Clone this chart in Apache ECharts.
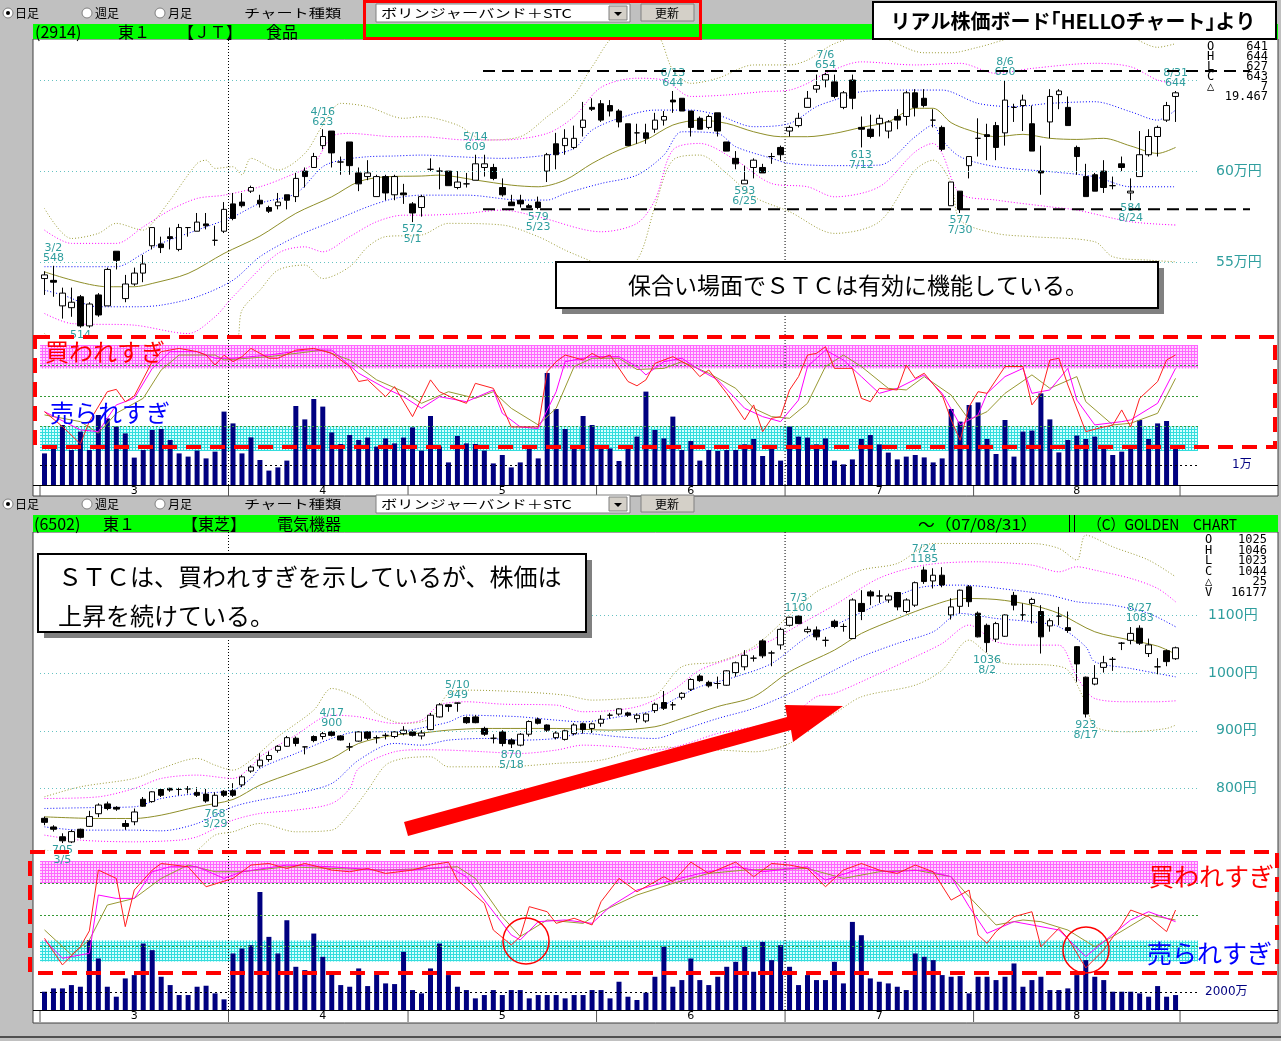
<!DOCTYPE html>
<html lang="ja">
<head>
<meta charset="utf-8">
<title>ボリンジャーバンド＋STC</title>
<script src="https://cdn.jsdelivr.net/npm/echarts@6/dist/echarts.min.js"></script>
<style>
  html, body { margin: 0; padding: 0; background: #c0c0c0; }
  #chart { width: 1281px; height: 1041px; }
</style>
</head>
<body>
<div id="chart"></div>
<script>
const FONT = '"Noto Sans CJK JP", "DejaVu Sans", sans-serif'
const NUM_FONT = '"DejaVu Sans", "Noto Sans CJK JP", sans-serif'
const TEAL = '#2f9e9e'
const OLIVE = '#999933'

// 営業日 2007/3〜8
const marDays = [1, 2, 5, 6, 7, 8, 9, 12, 13, 14, 15, 16, 19, 20, 22, 23, 26, 27, 28, 29, 30]
const aprDays = [2, 3, 4, 5, 6, 9, 10, 11, 12, 13, 16, 17, 18, 19, 20, 23, 24, 25, 26, 27]
const mayDays = [1, 2, 7, 8, 9, 10, 11, 14, 15, 16, 17, 18, 21, 22, 23, 24, 25, 28, 29, 30, 31]
const junDays = [1, 4, 5, 6, 7, 8, 11, 12, 13, 14, 15, 18, 19, 20, 21, 22, 25, 26, 27, 28, 29]
const julDays = [2, 3, 4, 5, 6, 9, 10, 11, 12, 13, 17, 18, 19, 20, 23, 24, 25, 26, 27, 30, 31]
const augDays = [1, 2, 3, 6, 7, 8, 9, 10, 13, 14, 15, 16, 17, 20, 21, 22, 23, 24, 27, 28, 29, 30, 31]
const monthLabels = ['3', '4', '5', '6', '7', '8']

// ---- JT (2914)  [始値, 終値, 安値, 高値] 千円
const jtCandles = [
  [541,543,532,545],[540,539,531,548],[526,533,519,536],[525,528,520,536],[531,515,514,532],
  [515,527,514,528],[532,521,520,533],[526,546,526,547],[556,551,546,556],[530,538,528,543],
  [538,544,537,547],[544,549,539,554],[559,569,557,569],[560,558,555,564],[564,563,557,569],
  [557,569,556,571],[569,569,564,569],[567,572,567,577],[571,570,568,577],[562,562,559,570],
  [567,579,566,583],[582,574,573,588],[583,581,580,588],[589,591,588,592],[584,582,580,587],
  [580,578,577,581],[581,583,579,588],[587,584,579,587],[586,596,583,599],[600,597,591,602],
  [602,608,602,610],[614,619,612,623],[622,610,602,622],[605,605,598,608],[616,603,598,616],
  [599,593,589,602],[597,599,595,606],[586,597,586,598],[597,588,584,598],[587,597,584,598],
  [588,587,582,593],[582,577,572,583],[580,586,575,587],[601,601,600,607],[600,600,590,602],
  [600,592,592,600],[591,594,590,600],[593,593,591,599],[595,604,595,609],[602,604,597,609],
  [602,596,595,604],[591,587,586,596],[583,581,581,587],[584,582,580,587],[581,580,580,582],
  [583,580,579,586],[600,609,594,610],[615,609,601,621],[614,618,609,623],[613,618,612,625],
  [624,628,619,638],[635,634,633,640],[637,628,627,639],[636,633,630,639],[633,627,624,634],
  [626,614,614,626],[621,621,615,626],[621,618,615,626],[623,628,621,632],[628,630,625,633],
  [639,638,632,644],[640,633,633,640],[633,624,619,633],[629,623,623,630],[624,630,623,631],
  [632,622,619,632],[616,611,611,616],[607,604,601,611],[593,595,593,603],[602,606,596,607],
  [602,599,599,604],[608,608,604,610],[613,609,606,614],[622,624,619,625],[625,629,624,632],
  [635,640,635,644],[645,647,643,653],[650,653,646,654],[649,641,640,653],[635,643,634,644],
  [650,640,634,653],[624,623,613,630],[623,619,618,631],[626,629,619,631],[622,627,618,628],
  [630,628,623,634],[630,643,625,644],[643,635,630,645],[640,636,635,645],[628,628,624,634],
  [624,612,611,625],[581,594,581,594],[589,579,577,589],[603,608,596,608],[618,618,608,629],
  [620,619,606,626],[625,613,606,627],[621,639,614,650],[635,635,627,637],[636,639,622,642],
  [626,611,611,636],[600,599,587,614],[627,641,618,645],[642,644,634,645],[635,625,625,641],
  [613,608,598,614],[597,586,586,604],[598,589,589,599],[600,591,588,606],[592,592,590,597],
  [604,602,600,608],[588,589,584,596],[597,609,597,622],[609,619,608,623],[619,624,608,625],
  [628,636,627,638],[641,643,627,644]
]
// 出来高 千株
const jtVolume = [
  15.8,18.3,30,17.5,26.7,17.5,35,33.3,29.2,25.8,13.7,17.5,27.5,28,22.5,15.8,14.2,17.2,13.3,16.7,
  36.7,30.8,15.8,23.8,12.5,7.2,8.8,12.2,39.5,32.8,43,39.2,26.3,20.5,25,22.5,23.7,19.2,23.3,20.8,
  23.7,28.8,17.2,34.5,19.2,11.3,24.5,20.8,20.5,17.2,10.8,15,8.8,11.3,18,13.3,56,38,28,18,
  34.5,30,18,18.3,12,18,24.2,46.7,27.5,23.3,34.2,17.5,22,12.2,17.5,17,17.5,17.5,20.3,23,
  14.5,20,12.2,29.2,24.2,23.7,20.3,23.3,12.2,10.3,12.8,23,25,20.3,16.2,12.8,14.2,15,13.8,11.3,
  13.3,38,31.7,40,41.3,23,15.5,32.5,14.2,26.7,27.2,45.8,32.8,16.3,22.5,24.7,23,24.2,20,15,
  16.7,20,32.5,23,30.8,32,19.5
]
// ボリンジャーバンド [index, 値]
const jtMid = [[0,544.7],[7,536.5],[10,536.5],[12,538.3],[16,543.8],[20,554.8],[24,564.3],[28,576.8],[32,585.9],[35,594.2],[38,596.9],[42,597.3],[44,597.8],[48,595.1],[52,592.3],[55,591.4],[58,595.1],[61,604.2],[64,611.6],[67,617.1],[70,625.3],[73,628],[76,626.2],[79,621.6],[82,618.9],[85,618.9],[88,620.7],[91,624],[94,627.1],[97,634.5],[99,634.5],[101,626.6],[103,622.5],[106,618.9],[109,620.2],[112,618],[115,617.4],[118,618],[121,613.8],[124,609.7],[126,613]]
const jtUp1 = [[0,547.5],[8,547.5],[11,554.8],[13,560.3],[17,567.6],[21,574.9],[24,582.3],[28,587.7],[31,602.4],[33,606],[36,607.9],[39,608.3],[42,608.8],[46,607.9],[51,607],[56,608.8],[59,612.5],[61,622.5],[64,629],[68,633.5],[72,633.5],[75,630.8],[79,624.4],[83,626.2],[86,635.4],[88,639],[91,643.6],[97,644.5],[100,644.5],[104,637.2],[108,635.4],[112,637.2],[117,638.1],[121,632.6],[124,628],[126,633.5]]
const jtLo1 = [[0,534.6],[2,532],[6,525.5],[10,525.5],[13,526.4],[17,531],[21,540.1],[24,553],[28,564],[32,572.2],[36,580.4],[39,585],[42,586.8],[47,586.8],[53,584.1],[56,584.1],[58,587.7],[62,593.2],[66,597.8],[69,608.8],[71,621.6],[75,620.7],[77,613.4],[81,607],[83,604.2],[88,603],[93,603.3],[97,618.9],[99,625.3],[100,617.1],[102,607.9],[106,602.4],[112,599.7],[117,596.9],[121,591.4],[126,591.4]]
const jtUp2 = [[0,567.6],[3,560.3],[8,560.3],[11,569.4],[14,578.6],[17,585],[20,586.8],[24,591.4],[27,596.9],[30,604.2],[32,618.9],[34,620.7],[39,618.9],[42,618.9],[47,617.1],[51,617.1],[56,620.7],[59,629.9],[62,646],[66,651],[69,650],[72,641],[76,641.8],[80,643.6],[83,644.5],[85,648.2],[87,653.7],[91,660],[97,658.3],[102,659.2],[106,653.7],[110,656.4],[117,659.2],[121,657.3],[124,650],[126,648.2]]
const jtLo2 = [[0,521.8],[3,516.3],[10,515.4],[16,510.8],[19,520],[21,531],[26,554.8],[29,558.4],[31,555.7],[34,564],[37,572.2],[40,575.8],[42,575.8],[47,576.8],[51,578.6],[55,574.9],[62,566.7],[66,571.3],[68,584.1],[70,611.6],[73,615.2],[77,606],[81,593.2],[85,591.4],[88,585.9],[93,591.4],[97,610.6],[99,615.2],[100,609.7],[102,587.7],[106,584.1],[112,580.4],[115,578.6],[121,572.2],[126,570.4]]
const jtUp3 = [[0,579.5],[3,563],[6,565.8],[8,571.3],[11,567.6],[12,571.3],[14,584.1],[17,604.2],[18,606],[19,601.5],[21,602.4],[22,598],[23,607],[26,600.6],[29,609.7],[31,625.3],[33,637.2],[36,635.4],[40,629],[42,629.9],[46,625.3],[49,617.1],[53,618.9],[56,629.9],[59,641.8],[61,657.3],[64,675],[68,675],[70,655.5],[72,648.2],[75,651],[79,658.3],[83,658.3],[85,661],[88,670],[92,675],[98,665],[101,665],[104,668],[110,675],[120,675],[124,668],[126,670]]
const jtLo3 = [[0,510.8],[2,505],[21,505],[22,523.6],[24,534.6],[26,545.6],[29,548.4],[31,541],[34,547.5],[36,558.4],[38,564],[42,564.9],[45,571.3],[51,570.4],[55,564],[58,556.6],[61,550.2],[63,545],[66,551.1],[68,580.4],[70,606],[73,608.8],[76,598.7],[79,585.9],[83,577.7],[88,565.8],[93,572.2],[97,600.6],[99,606],[101,593.2],[102,573.1],[106,565.8],[110,564],[117,561.2],[119,553],[123,551.1],[126,550.2]]
// STC %
const jtK = [[0,34.6],[2,20],[4,3],[5,25],[7,54.2],[8,56.5],[9,44.3],[10,50],[12,83.7],[13,93.5],[15,96.7],[17,93.5],[18,90.2],[19,80.4],[20,90],[21,83.7],[22,88.6],[23,96.7],[25,87],[26,87],[28,95],[30,96.7],[32,91.8],[34,78.9],[35,64.2],[36,65.8],[38,49.3],[39,59.2],[41,29.7],[43,65.8],[44,54.2],[46,46],[47,42.8],[48,62.4],[50,57.5],[51,39.5],[52,19.6],[53,19.6],[55,19.6],[56,74],[57,83.7],[58,90.2],[60,85.3],[61,91.8],[62,87],[63,90.2],[65,64.2],[66,60],[67,65.8],[68,82],[70,88.6],[72,78.9],[73,69],[74,75.5],[76,52.6],[78,26.5],[79,41.2],[80,15],[81,28.1],[82,29.7],[83,55.9],[84,69],[85,90.2],[86,91.8],[87,98.4],[88,77.1],[90,77.1],[91,47.7],[92,44.4],[93,57.5],[95,55.9],[96,80.4],[97,67.3],[98,72.3],[100,50.9],[101,26.5],[102,6.5],[103,39.5],[104,54.2],[105,52.6],[107,78.9],[109,78.9],[110,41.2],[111,52.6],[112,85.3],[113,87],[114,60.8],[116,15],[118,19.6],[119,21.3],[120,36.3],[121,19.6],[122,47.7],[124,64.1],[125,85.3],[126,90.2]]
const jtD = [[0,34.6],[4,16.7],[6,15],[8,41.2],[10,47.7],[12,77],[14,93.5],[17,93.5],[19,87],[21,87],[25,90.2],[29,95],[32,95],[35,72.3],[38,57.5],[40,49.3],[42,37.9],[44,49.3],[47,44.4],[50,55.9],[51,33],[53,19.6],[55,18],[57,54.2],[58,83.7],[61,88.6],[64,88.6],[66,78.9],[67,70.7],[69,83.7],[71,87],[73,75.5],[75,65.8],[78,37.9],[80,29.7],[82,24.8],[84,46],[85,78.9],[87,95],[89,85.3],[91,69],[93,52.6],[95,57.5],[98,70.7],[100,52.6],[102,21.6],[104,31.4],[105,52.6],[107,69],[109,77.1],[110,52.6],[112,55.9],[114,77.1],[115,46],[117,21.6],[120,24.8],[121,26.5],[124,42.8],[126,77.1]]
const jtSD = [[0,31.4],[4,24.8],[6,13.4],[8,33],[11,47.7],[13,75.5],[15,90.2],[19,90.2],[20,85.3],[25,88.6],[31,95],[34,85.3],[37,65.8],[40,54.2],[42,42.8],[45,54.2],[48,47.7],[50,54.2],[52,37.9],[55,21.6],[57,37.9],[59,78.9],[61,87],[64,87],[66,76],[69,77.1],[71,83.7],[74,72.3],[77,57.5],[79,37.9],[81,29.7],[83,28.1],[85,42.8],[87,78.9],[89,90.2],[91,78.9],[94,57.5],[96,55.9],[98,69],[101,50.9],[103,26.5],[105,34.6],[107,52.6],[110,70.7],[112,57.5],[115,69],[116,44.4],[119,21.6],[121,23.2],[124,33],[126,67.3]]
const jtNotes = [[1,'3/2',548,'up'],[4,'',514,'down'],[31,'4/16',623,'up'],[41,'5/1',572,'down'],[48,'5/14',609,'up'],[55,'5/23',579,'down'],[70,'6/13',644,'up'],[78,'6/25',593,'down'],[87,'7/6',654,'up'],[91,'7/12',613,'down'],[102,'7/30',577,'down'],[107,'8/6',650,'up'],[121,'8/24',584,'down'],[126,'8/31',644,'up']]
const jtLevels = [[550,'55万円'],[600,'60万円'],[650,'']]
const jtBoxLevels = [655, 579]
const jtInfoKeys = ['O', 'H', 'L', 'C', '△', '']
const jtInfoVals = ['641', '644', '627', '643', '7', '19.467']

// ---- 東芝 (6502)  [始値, 終値, 安値, 高値] 円
const tsCandles = [
  [748,741,736,751],[733,729,725,736],[716,709,705,722],[707,725,705,728],[729,715,713,730],
  [734,751,733,761],[756,771,750,774],[773,765,762,777],[767,764,761,769],[739,734,728,745],
  [742,759,736,765],[781,769,768,785],[777,794,775,795],[798,788,785,800],[800,797,794,801],
  [798,798,788,801],[799,799,791,804],[793,788,785,802],[790,778,775,799],[769,788,768,793],
  [795,788,785,797],[796,788,785,809],[806,820,802,823],[830,837,827,840],[839,849,835,861],
  [850,857,846,864],[866,873,862,875],[873,888,872,891],[887,878,873,890],[872,872,859,872],
  [890,883,880,892],[890,895,885,898],[898,892,890,900],[891,884,883,892],[872,872,865,879],
  [882,898,881,899],[898,887,884,899],[888,888,878,892],[892,892,885,896],[890,898,887,899],
  [895,901,892,908],[898,892,890,901],[891,896,885,901],[902,927,901,931],[924,945,923,948],
  [945,942,933,946],[948,948,933,949],[923,914,912,925],[924,914,913,927],[904,894,891,907],
  [887,887,878,894],[898,878,873,901],[884,877,870,887],[875,894,873,896],[894,916,890,918],
  [920,913,911,923],[910,901,898,911],[888,896,885,899],[885,900,883,902],[895,910,892,913],
  [912,902,895,914],[904,912,896,914],[913,920,907,927],[927,927,921,931],[929,938,926,939],
  [931,927,924,933],[921,927,914,930],[917,929,914,930],[935,946,931,949],[949,939,936,969],
  [945,945,936,950],[958,965,954,967],[972,989,969,991],[995,987,985,998],[984,978,975,987],
  [982,982,973,994],[979,1004,978,1005],[1001,1018,994,1020],[1011,1031,1005,1040],[1026,1026,1020,1031],
  [1056,1030,1026,1059],[1035,1035,1012,1039],[1049,1076,1041,1079],[1083,1097,1081,1098],[1099,1086,1085,1100],
  [1072,1076,1069,1081],[1075,1063,1057,1081],[1057,1057,1046,1063],[1090,1081,1078,1093],[1081,1081,1072,1086],
  [1060,1127,1060,1130],[1121,1107,1092,1144],[1141,1134,1118,1144],[1134,1134,1122,1144],[1127,1134,1122,1138],
  [1140,1115,1109,1141],[1107,1127,1104,1130],[1118,1157,1115,1159],[1179,1159,1155,1185],[1160,1170,1147,1182],
  [1170,1153,1149,1184],[1101,1115,1093,1130],[1116,1144,1104,1145],[1150,1124,1115,1153],[1104,1063,1062,1107],
  [1083,1053,1036,1086],[1059,1086,1054,1089],[1064,1101,1063,1102],[1135,1118,1109,1141],[1101,1101,1092,1121],
  [1121,1128,1086,1131],[1107,1063,1034,1118],[1082,1091,1072,1095],[1099,1099,1083,1115],[1079,1074,1070,1107],
  [1046,1016,985,1047],[993,929,923,994],[981,991,979,1014],[1010,1018,1001,1030],[1024,1024,1004,1028],
  [1052,1052,1040,1054],[1057,1069,1050,1080],[1078,1052,1049,1083],[1034,1049,1028,1060],[1011,1011,998,1026],
  [1039,1020,1012,1041],[1025,1044,1023,1046]
]
// 出来高 万株
const tsVolume = [
  2004,2368,2368,2732,2550,7650,5647,2550,1457,3461,3826,7286,6557,3643,2732,1639,1639,2550,2660,1822,1166,
  6194,6741,7104,12934,8015,6194,9836,4736,4372,8379,5829,4190,2732,2550,4554,2623,4008,2915,2841,6376,
  2186,1822,4554,7286,3826,2550,2186,1275,1639,2186,1639,2186,2186,1275,1639,1639,1639,1275,1639,1639,2186,
  2186,1275,3097,1457,1093,1895,3643,6923,2550,3279,5647,3279,2732,3643,4736,5283,6923,4190,7468,5465,7104,
  4736,2732,3826,3279,3279,5283,2915,9654,8197,3461,3097,2915,2550,2186,6194,5829,5465,3826,3643,3716,1822,
  3643,3643,3279,3643,5101,2550,3279,3643,2186,2186,2368,3826,5465,3643,3279,2004,2004,2004,1822,1457,2623,1457,1639
]
const tsMid = [[0,750.6],[6,747.7],[10,747.7],[13,753.5],[17,768],[21,780.7],[24,805.6],[28,828.7],[32,851.9],[35,878],[39,892.4],[42,896],[45,901.1],[49,904],[57,904],[63,901.1],[68,906.9],[71,921.3],[75,942],[79,959],[83,1002.4],[88,1040],[91,1068.9],[95,1094.9],[99,1118],[102,1129.6],[106,1127.9],[110,1118],[113,1103.6],[117,1071.8],[121,1057.3],[124,1046.9],[126,1033]]
const tsUp1 = [[0,765.1],[6,766.8],[10,768],[13,782.4],[17,791.1],[21,796.9],[23,817.2],[24,834.5],[28,860.6],[32,886.6],[35,898.2],[39,898.2],[42,905],[45,915],[47,927.1],[50,926],[53,924.2],[57,918.4],[60,915.5],[64,924.2],[68,935.8],[70,953.2],[73,976.3],[77,993.7],[81,1016.8],[85,1063.1],[88,1083],[93,1120],[98,1150],[102,1152.8],[108,1144.1],[112,1135.4],[115,1123.9],[119,1118],[123,1103.6],[126,1080.5]]
const tsLo1 = [[0,733.2],[4,727.5],[10,727.5],[13,726.3],[17,739],[21,768],[24,779.6],[28,791.1],[32,808.5],[35,849],[39,878],[42,875],[45,883.7],[49,886.6],[53,883.7],[57,886.6],[60,895.3],[64,889.5],[68,886.6],[71,901.1],[75,921.3],[79,938.7],[83,964.7],[88,1005.2],[91,1028.4],[95,1051.5],[99,1071.8],[102,1103.6],[106,1094.9],[110,1089.2],[113,1080.5],[116,1045.7],[117,1019.7],[121,1008.1],[124,999.4],[126,993.6]]
const tsUp2 = [[0,782.4],[6,785.3],[10,799.8],[13,817.2],[17,823],[21,817.2],[23,837.4],[24,854.8],[28,892.4],[32,927.1],[35,924.2],[39,912.7],[42,918.4],[44,944.5],[47,950.3],[51,946.2],[57,944.5],[60,933],[66,941.6],[70,970.5],[73,1005.2],[77,1028.4],[81,1057.3],[85,1092],[88,1118],[93,1165],[98,1187.5],[104,1193.3],[110,1187.5],[113,1175.9],[115,1184.6],[117,1178.8],[121,1164.4],[124,1147],[126,1123.9]]
const tsLo2 = [[0,718.8],[4,710.1],[10,707.2],[15,710.1],[17,715.9],[19,730.4],[21,744.8],[24,756.4],[28,762.2],[32,773.8],[34,799.8],[35,834.5],[39,863.5],[42,867],[45,866.4],[49,863.5],[53,860.6],[57,866.4],[60,875],[64,872.1],[68,866.4],[71,875],[75,895.3],[79,906.9],[83,924.2],[86,959],[88,965],[93,999.4],[97,1028.4],[100,1051.5],[103,1083.4],[106,1054.4],[110,1048.6],[113,1048.6],[115,993.6],[117,956],[121,950.3],[124,950.3],[126,952]]
const tsUp3 = [[0,785.3],[4,802.7],[10,817.2],[13,834.5],[17,851.9],[19,840.3],[21,831.6],[23,849],[26,889.5],[30,935.8],[32,973.4],[35,956],[37,930],[40,912.7],[43,921.3],[45,964.7],[47,970.5],[53,967.6],[58,961.8],[61,953.2],[65,956.1],[68,961.8],[71,1011],[75,1019.7],[79,1045.8],[83,1100.7],[86,1141.2],[88,1155.7],[91,1178.8],[95,1190.4],[99,1225.1],[104,1225.1],[110,1225.1],[113,1216.5],[115,1196.2],[116,1239.6],[119,1219.3],[123,1196.2],[126,1167.3]]
const tsLo3 = [[0,692.7],[3,688],[16,688],[17,692.7],[19,718.8],[21,724.6],[24,739],[28,724.6],[32,727.5],[34,756.4],[36,796.9],[38,840.3],[40,851.9],[43,854.8],[45,837.4],[51,837.4],[57,843.2],[62,849],[66,866.4],[69,872.1],[72,866.4],[75,866.4],[79,863.5],[83,878],[86,915.5],[88,930],[91,958.9],[97,979.2],[100,1005.2],[103,1057.3],[105,1034.2],[107,1016.8],[112,1013.9],[114,1005.2],[116,947.4],[117,906.9],[121,898.2],[125,904],[126,909.8]]
const tsK = [[0,28],[2,2.8],[4,20],[5,35],[6,92.5],[8,84.6],[9,39],[10,73.6],[12,92.5],[13,98.7],[16,95.6],[18,76.7],[21,84.6],[23,97.2],[25,98.7],[27,94],[29,98.7],[32,92.5],[34,90.9],[36,94],[38,89.3],[41,92.5],[43,97.2],[45,100],[46,83],[49,61],[50,35.8],[52,21.7],[53,29.6],[54,57.9],[56,53.1],[57,42.1],[59,46.9],[61,40.6],[62,62.6],[64,84.6],[66,72],[69,86.2],[70,81.4],[72,100],[74,89.3],[77,100],[79,86.2],[81,98.7],[83,97.2],[85,94],[87,76.7],[89,92.5],[91,98.7],[93,92.5],[95,89.3],[97,97.2],[99,90.9],[101,64.1],[103,73.6],[104,31.1],[105,23.3],[106,34.3],[108,48.4],[110,53.1],[111,20],[113,37.4],[114,28],[116,0],[118,17.1],[120,40.6],[121,54.7],[123,48.4],[125,34.3],[126,54.7]]
const tsD = [[0,26.4],[2,9.1],[5,13.8],[6,68.9],[8,65.7],[10,65.7],[12,90.9],[14,95.6],[17,95.6],[20,84.6],[22,90.9],[27,97.2],[32,95.6],[37,92.5],[41,92.5],[45,95.6],[47,86.2],[49,64.1],[52,31.1],[53,26.4],[55,43.7],[58,45.3],[61,42.1],[63,57.9],[66,73.6],[70,83],[73,89.3],[77,95.6],[80,90.9],[85,95.6],[87,83],[91,94],[94,90.9],[98,92.5],[101,86.2],[103,57.9],[105,32.7],[108,43.7],[110,40.6],[113,35.8],[116,10.7],[118,24.8],[121,45.3],[123,53.1],[126,43.7]]
const tsSD = [[0,35.9],[3,12.3],[5,26.4],[7,59.4],[10,65.7],[13,84.6],[16,97.2],[19,90.9],[22,90.9],[27,95.6],[32,94],[38,92.5],[43,94],[46,95.6],[48,84.6],[51,48.4],[53,29.6],[56,45.3],[60,42.1],[62,53.1],[66,68.9],[70,79.9],[74,89.3],[78,92.5],[85,94],[89,84.6],[93,90.9],[97,92.5],[101,86.2],[103,67.3],[106,40.6],[109,45.3],[111,43.7],[114,35.8],[117,20],[119,29.6],[123,50],[126,45.3]]
const tsNotes = [[2,'3/5',705,'down'],[19,'3/29',768,'down'],[32,'4/17',900,'up'],[46,'5/10',949,'up'],[52,'5/18',870,'down'],[84,'7/3',1100,'up'],[98,'7/24',1185,'up'],[105,'8/2',1036,'down'],[116,'8/17',923,'down'],[122,'8/27',1083,'up']]
const tsLevels = [[800,'800円'],[900,'900円'],[1000,'1000円'],[1100,'1100円']]
const tsInfoKeys = ['O', 'H', 'L', 'C', '△', 'V']
const tsInfoVals = ['1025', '1046', '1023', '1044', '25', '16177']

// ---- axis helpers
const monthDays = [marDays, aprDays, mayDays, junDays, julDays, augDays]
const categories = monthDays.flatMap((days, m) => days.map(d => `${m + 3}/${d}`)).concat(['', ''])
const monthStarts = []
const monthMids = {}
let pos = 0
monthDays.forEach((days, m) => {
  monthStarts.push(pos)
  monthMids[pos + Math.floor(days.length / 2)] = monthLabels[m]
  pos += days.length
})
monthStarts.push(pos)
const quarterStarts = [monthStarts[1], monthStarts[4]]

const grids = [
  { left: 40, top: 40, width: 1158, height: 295 },
  { left: 40, top: 343, width: 1158, height: 109 },
  { left: 40, top: 345, width: 1158, height: 140 },
  { left: 40, top: 532, width: 1158, height: 318 },
  { left: 40, top: 860, width: 1158, height: 110 },
  { left: 40, top: 864, width: 1158, height: 146 }
]
const yRanges = [[510, 672], [-5, 102], [0, 70], [693, 1245], [-2, 102], [0, 16000]]

const xAxisFor = (gi) => {
  const labelled = gi === 2 || gi === 5
  return {
    type: 'category', gridIndex: gi, data: categories, boundaryGap: true,
    axisLine: { show: labelled, lineStyle: { color: '#000', width: 1 } },
    axisTick: { show: false },
    axisLabel: {
      show: labelled, interval: (i) => monthMids[i] !== undefined, formatter: (v, i) => monthMids[i] || '',
      fontSize: 11, margin: 1, color: '#000', fontFamily: NUM_FONT
    },
    splitLine: { show: false }
  }
}

const hatch = (base, line) => {
  const c = document.createElement('canvas')
  c.width = 3
  c.height = 3
  const g = c.getContext('2d')
  g.fillStyle = base
  g.fillRect(0, 0, 3, 3)
  g.fillStyle = line
  g.fillRect(0, 0, 3, 1)
  g.fillRect(0, 0, 1, 3)
  return { image: c, repeat: 'repeat' }
}

const panelSeries = (g, p) => [
  {
    type: 'line', xAxisIndex: g + 1, yAxisIndex: g + 1, data: [[0, 50]], symbol: 'none',
    lineStyle: { opacity: 0 }, z: 1, silent: true,
    markArea: {
      silent: true,
      data: [
        [{ yAxis: p.pink[0], itemStyle: { color: hatch('#ffd6ff', '#ff66ff') } }, { yAxis: p.pink[1] }],
        [{ yAxis: p.cyan[0], itemStyle: { color: hatch('#d6ffff', '#33dddd') } }, { yAxis: p.cyan[1] }]
      ]
    },
    markLine: {
      silent: true, symbol: 'none',
      lineStyle: { color: '#339933', type: [2, 2], width: 1 },
      label: { show: false },
      data: [
        { yAxis: 20 }, { yAxis: 50 }, { yAxis: 80 },
        { yAxis: 100, lineStyle: { opacity: 0 }, label: { show: true, position: 'end', formatter: '100%', distance: 17, color: OLIVE, fontSize: 12, fontFamily: NUM_FONT } },
        { yAxis: 0, lineStyle: { opacity: 0 }, label: { show: true, position: 'end', formatter: '0 %', distance: 29, color: OLIVE, fontSize: 12, fontFamily: NUM_FONT } }
      ]
    }
  },
  ...p.bands.map(([data, color, dash]) => ({
    type: 'line', xAxisIndex: g, yAxisIndex: g, data, smooth: 0.3, symbol: 'none', z: 2, silent: true,
    lineStyle: { color, width: 1, type: dash }
  })),
  {
    type: 'candlestick', xAxisIndex: g, yAxisIndex: g, data: p.candles, barWidth: 6, z: 4, silent: true,
    itemStyle: { color: '#fff', color0: '#000', borderColor: '#000', borderColor0: '#000', borderColorDoji: '#000', borderWidth: 1 },
    markPoint: {
      silent: true, symbol: 'rect', symbolSize: 1, itemStyle: { color: 'rgba(0,0,0,0)' },
      label: { color: TEAL, fontSize: 11, lineHeight: 10, fontFamily: NUM_FONT, distance: 2 },
      data: p.notes.map(([i, date, v, side]) => ({
        coord: [i, v],
        label: {
          position: side === 'up' ? 'top' : 'bottom',
          formatter: side === 'up' ? `${date}\n${v}` : (date ? `${v}\n${date}` : `${v}`)
        }
      }))
    },
    markLine: {
      silent: true, symbol: 'none',
      lineStyle: { color: '#66c2c2', type: [1, 3], width: 1 },
      label: { position: 'end', color: TEAL, fontSize: 14, fontFamily: NUM_FONT },
      data: p.levels.map(([v, text]) => ({
        yAxis: v,
        label: text ? { formatter: text, distance: text.length > 4 ? 10 : 18 } : { show: false }
      }))
    }
  },
  {
    type: 'bar', xAxisIndex: g + 2, yAxisIndex: g + 2, data: p.volume, barWidth: 5, z: 3, silent: true,
    itemStyle: { color: '#000080' },
    markLine: {
      silent: true, symbol: 'none',
      lineStyle: { color: '#000', type: [2, 3], width: 1 },
      label: { position: 'end', color: '#000080', fontSize: 12, fontFamily: NUM_FONT, distance: p.volLabelGap, formatter: p.volLabel },
      data: [{ yAxis: p.volLevel }]
    }
  },
  ...p.stc.map(([data, color]) => ({
    type: 'line', xAxisIndex: g + 1, yAxisIndex: g + 1, data, symbol: 'none', z: 5, silent: true,
    lineStyle: { color, width: 1 }
  }))
]

const bandStyles = (mid, u1, l1, u2, l2, u3, l3) => [
  [u3, '#9c9c38', [1, 2]], [l3, '#9c9c38', [1, 2]],
  [u2, '#ff00ff', [1, 2]], [l2, '#ff00ff', [1, 2]],
  [u1, '#0000ff', [1, 2]], [l1, '#0000ff', [1, 2]],
  [mid, '#8f8f2a', 'solid']
]

const option = {
  animation: false,
  backgroundColor: '#c0c0c0',
  textStyle: { fontFamily: FONT },
  grid: grids,
  xAxis: grids.map((_, gi) => xAxisFor(gi)),
  yAxis: yRanges.map(([min, max], gi) => ({ type: 'value', gridIndex: gi, min, max, show: false, splitLine: { show: false } })),
  series: [
    ...panelSeries(0, {
      candles: jtCandles, volume: jtVolume, notes: jtNotes, levels: jtLevels,
      bands: bandStyles(jtMid, jtUp1, jtLo1, jtUp2, jtLo2, jtUp3, jtLo3),
      stc: [[jtSD, OLIVE], [jtD, '#ff00ff'], [jtK, '#ff2020']],
      pink: [77, 100], cyan: [-4, 20], volLevel: 10, volLabel: '1万', volLabelGap: 34
    }),
    ...panelSeries(3, {
      candles: tsCandles, volume: tsVolume, notes: tsNotes, levels: tsLevels,
      bands: bandStyles(tsMid, tsUp1, tsLo1, tsUp2, tsLo2, tsUp3, tsLo3),
      stc: [[tsSD, OLIVE], [tsD, '#ff00ff'], [tsK, '#ff2020']],
      pink: [80, 101], cyan: [6, 26], volLevel: 2000, volLabel: '2000万', volLabelGap: 7
    })
  ]
}

const chart = echarts.init(document.getElementById('chart'))
chart.setOption(option)

// ---- 画面部品と注記
const txt = (x, y, text, o = {}) => ({
  type: 'text', x, y, z: o.z ?? 50, silent: true, scaleX: o.sx ?? 1,
  style: { text, fill: o.fill ?? '#000', font: o.font ?? `12px ${FONT}`, textAlign: o.align ?? 'left', textVerticalAlign: 'middle' }
})
const rect = (x, y, w, h, style, z = 50) => ({ type: 'rect', z, silent: true, shape: { x, y, width: w, height: h }, style })
const seg = (x1, y1, x2, y2, style, z = 50) => ({ type: 'line', z, silent: true, shape: { x1, y1, x2, y2 }, style })

const toolbar = (y) => {
  const cy = y + 13
  const radio = (x, on) => [
    { type: 'circle', z: 50, silent: true, shape: { cx: x, cy, r: 5 }, style: { fill: '#fff', stroke: '#808080', lineWidth: 1 } },
    ...(on ? [{ type: 'circle', z: 51, silent: true, shape: { cx: x, cy, r: 2 }, style: { fill: '#000' } }] : [])
  ]
  return [
    ...radio(8, true), txt(15, cy, '日足'),
    ...radio(87, false), txt(95, cy, '週足'),
    ...radio(160, false), txt(168, cy, '月足'),
    txt(244, cy, 'チャート種類', { sx: 1.35 }),
    rect(376, y + 4, 254, 18, { fill: '#fff', stroke: '#808080', lineWidth: 1 }),
    txt(381, cy, 'ボリンジャーバンド＋STC', { sx: 1.35, z: 52 }),
    rect(609, y + 6, 18, 14, { fill: '#d4d0c8', stroke: '#808080', lineWidth: 1 }, 52),
    { type: 'polygon', z: 53, silent: true, shape: { points: [[614, cy - 1], [622, cy - 1], [618, cy + 3]] }, style: { fill: '#000' } },
    rect(641, y + 4, 53, 17, { fill: '#d4d0c8', stroke: '#808080', lineWidth: 1 }),
    txt(667, cy, '更新', { align: 'center' })
  ]
}

const infoBlock = (xKey, xVal, y0, step, keys, vals) => keys.flatMap((k, i) => [
  txt(xKey, y0 + i * step, k, { font: `12px "DejaVu Sans Mono", ${FONT}` }),
  txt(xVal, y0 + i * step, vals[i], { font: `12px "DejaVu Sans Mono", ${FONT}`, align: 'right' })
])

// 月・四半期の区切り位置は軸のスケールから求める
const px = (gi, i) => chart.convertToPixel({ gridIndex: gi }, [i, yRanges[gi][0]])[0]
const bandEdge = (gi, i) => px(gi, i) - (px(gi, 1) - px(gi, 0)) / 2
const separators = (gi, y1, y2, style) => monthStarts.map(i => seg(bandEdge(gi, i), y1, bandEdge(gi, i), y2, style, 10))
const quarterLines = (gi, y1, y2) => quarterStarts.map(i =>
  seg(bandEdge(gi, i), y1, bandEdge(gi, i), y2, { stroke: '#000', lineWidth: 1, lineDash: [1, 2] }, 1))

const yHi = chart.convertToPixel({ gridIndex: 0 }, [0, jtBoxLevels[0]])[1]
const yLo = chart.convertToPixel({ gridIndex: 0 }, [0, jtBoxLevels[1]])[1]
const green = '#00ff00'
const redDash = { fill: 'none', stroke: '#ff0000', lineWidth: 4, lineDash: [15, 9] }

const elements = [
  // white chart panels
  rect(33, 39, 1245, 457, { fill: '#fff', stroke: '#404040', lineWidth: 1 }, -10),
  rect(33, 532, 1245, 491, { fill: '#fff', stroke: '#404040', lineWidth: 1 }, -10),
  seg(33, 485.5, 1278, 485.5, { stroke: '#000', lineWidth: 1 }, -5),
  seg(33, 1010.5, 1278, 1010.5, { stroke: '#000', lineWidth: 1 }, -5),
  seg(0, 1037, 1281, 1037, { stroke: '#505050', lineWidth: 2 }),
  ...separators(2, 486, 496, { stroke: '#555', lineWidth: 1 }),
  ...separators(5, 1011, 1022, { stroke: '#555', lineWidth: 1 }),
  ...quarterLines(0, 40, 485),
  ...quarterLines(3, 532, 1010),

  // top header
  ...toolbar(0),
  rect(33, 24, 1245, 15, { fill: green }),
  txt(35, 31.5, '(2914)', { font: `16px ${FONT}` }),
  txt(118, 31.5, '東１', { font: `16px ${FONT}` }),
  txt(178, 31.5, '【ＪＴ】', { font: `16px ${FONT}` }),
  txt(266, 31.5, '食品', { font: `16px ${FONT}` }),
  rect(364.5, 1.5, 336, 37, { fill: 'none', stroke: '#ff0000', lineWidth: 3 }, 60),
  rect(873, 2, 403, 37, { fill: '#fff', stroke: '#000', lineWidth: 2 }, 60),
  txt(1073, 21, 'リアル株価ボード｢HELLOチャート｣より', { font: `bold 20px ${FONT}`, align: 'center', z: 61 }),
  ...infoBlock(1207, 1268, 47, 10, jtInfoKeys, jtInfoVals),

  // bottom header
  ...toolbar(491),
  rect(33, 515, 1245, 17, { fill: green }),
  txt(34, 524, '(6502)', { font: `16px ${FONT}` }),
  txt(103, 524, '東１', { font: `16px ${FONT}` }),
  txt(182, 524, '【東芝】', { font: `16px ${FONT}` }),
  txt(277, 524, '電気機器', { font: `16px ${FONT}` }),
  txt(918, 524, '〜（07/08/31）', { font: `15px ${FONT}`, sx: 1.12 }),
  seg(1069.5, 515, 1069.5, 532, { stroke: '#000', lineWidth: 1 }),
  seg(1074.5, 515, 1074.5, 532, { stroke: '#000', lineWidth: 1 }),
  txt(1088, 524, '（C）GOLDEN　CHART', { font: `15px ${FONT}`, sx: 0.92 }),
  ...infoBlock(1205, 1267, 540, 10.5, tsInfoKeys, tsInfoVals),

  // top annotations
  seg(483, yHi, 1250, yHi, { stroke: '#000', lineWidth: 2, lineDash: [12, 7] }, 100),
  seg(483, yLo, 1250, yLo, { stroke: '#000', lineWidth: 2, lineDash: [12, 7] }, 100),
  rect(562, 268, 602, 46, { fill: '#808080' }, 98),
  rect(556, 262, 602, 46, { fill: '#fff', stroke: '#000', lineWidth: 2 }, 99),
  txt(628, 285, '保合い場面でＳＴＣは有効に機能している。', { font: `23px ${FONT}`, z: 100 }),
  rect(35, 337, 1240, 110, redDash, 101),
  txt(45, 352, '買われすぎ', { font: `24px ${FONT}`, fill: '#ff0000', z: 102 }),
  txt(50, 413, '売られすぎ', { font: `24px ${FONT}`, fill: '#0000ff', z: 102 }),

  // bottom annotations
  rect(44, 560, 548, 78, { fill: '#808080' }, 98),
  rect(38, 554, 548, 78, { fill: '#fff', stroke: '#000', lineWidth: 2 }, 99),
  txt(58, 577, 'ＳＴＣは、買われすぎを示しているが、株価は', { font: `24px ${FONT}`, z: 100 }),
  txt(58, 616, '上昇を続けている。', { font: `24px ${FONT}`, z: 100 }),
  {
    type: 'polygon', z: 100, silent: true,
    shape: { points: [[404, 822], [787, 717], [785, 705], [843, 706], [793, 742], [791, 730], [408, 836]] },
    style: { fill: '#ff0000' }
  },
  rect(30, 852, 1247, 121, redDash, 101),
  { type: 'circle', z: 101, silent: true, shape: { cx: 526, cy: 941, r: 23 }, style: { fill: 'none', stroke: '#ff0000', lineWidth: 1.5 } },
  { type: 'circle', z: 101, silent: true, shape: { cx: 1086, cy: 950, r: 23 }, style: { fill: 'none', stroke: '#ff0000', lineWidth: 1.5 } },
  txt(1149, 876, '買われすぎ', { font: `25px ${FONT}`, fill: '#ff0000', z: 102 }),
  txt(1147, 953, '売られすぎ', { font: `25px ${FONT}`, fill: '#0000ff', z: 102 })
]

chart.setOption({ graphic: { elements } })
</script>
</body>
</html>
